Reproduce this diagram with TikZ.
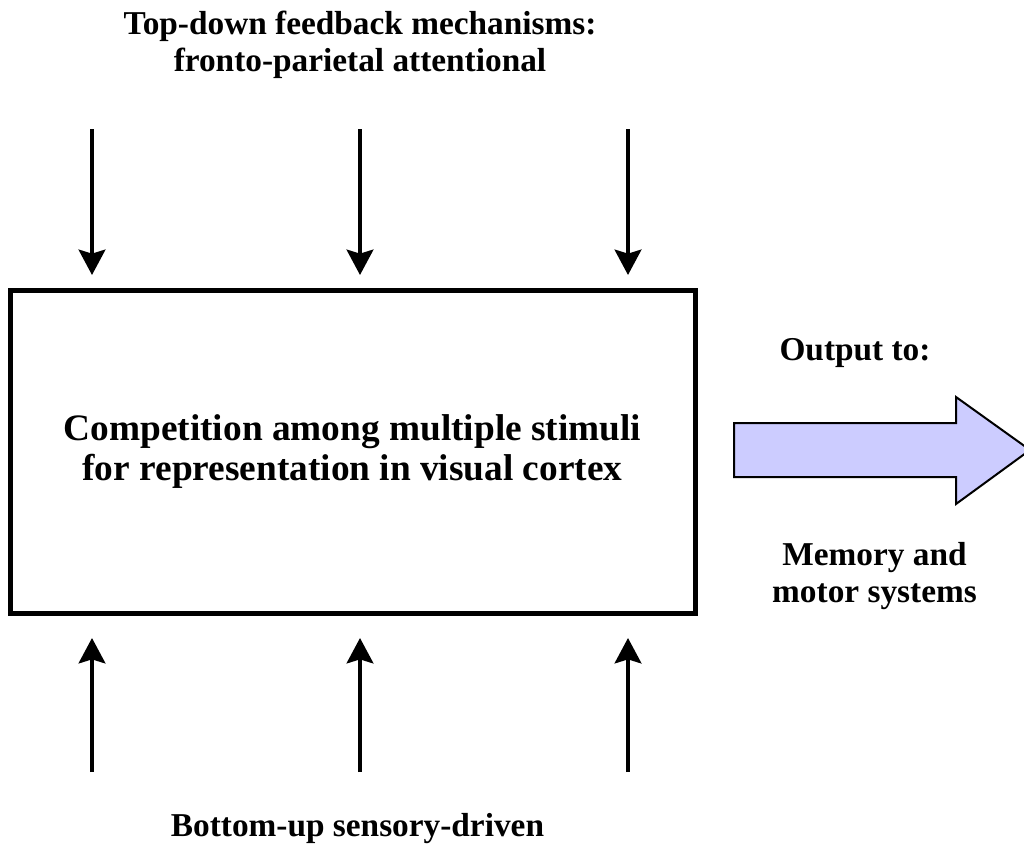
\documentclass[tikz,border=0pt]{standalone}
\usepackage{fontspec}
\setmainfont{Liberation Serif}
\usepackage{tikz}
\usetikzlibrary{arrows.meta,calc}
\definecolor{outfill}{RGB}{204,204,255}
\tikzstyle{line} = [draw, line width=3pt, -{Stealth[length=19pt,width=20pt,inset=3pt]}]
\tikzstyle{block} = [draw, rectangle, text centered, align=center, line width=3.75pt, minimum width=513.75pt, minimum height=242.25pt, font=\bfseries\fontsize{28}{30}\selectfont]
\tikzstyle{label} = [text centered, align=center, font=\bfseries\fontsize{25}{27.5}\selectfont]

\begin{document}
\begin{tikzpicture}[x=0.75pt, y=-0.75pt]
        \useasboundingbox (0,0) rectangle (1024,846);
        \node[block] (box) at (352.5,451.5) {Competition among multiple stimuli\\for representation in visual cortex};
        \node[label] (top) at (360,45) {Top-down feedback mechanisms:\\fronto-parietal attentional};
        \node[label] (bottom) at (357.5,829) {Bottom-up sensory-driven};
        \node[label] (output) at (855,353) {Output to:};
        \node[label] (memory) at (874.5,576) {Memory and\\motor systems};
        % feedback and sensory inputs
        \foreach \i/\x in {1/92, 2/360, 3/628} {
            \coordinate (ts\i) at (\x,129);
            \coordinate (te\i) at (\x,275);
            \coordinate (bs\i) at (\x,772);
            \coordinate (be\i) at (\x,638);
            \path[line] (ts\i) -- (te\i);
            \path[line] (bs\i) -- (be\i);
        }
        % output arrow
        \draw[line width=1.5pt, fill=outfill, line join=miter]
            (734,423) -- (956,423) -- (956,397) -- (1030,450) -- (956,504) -- (956,477) -- (734,477) -- cycle;
    \end{tikzpicture}
\end{document}
